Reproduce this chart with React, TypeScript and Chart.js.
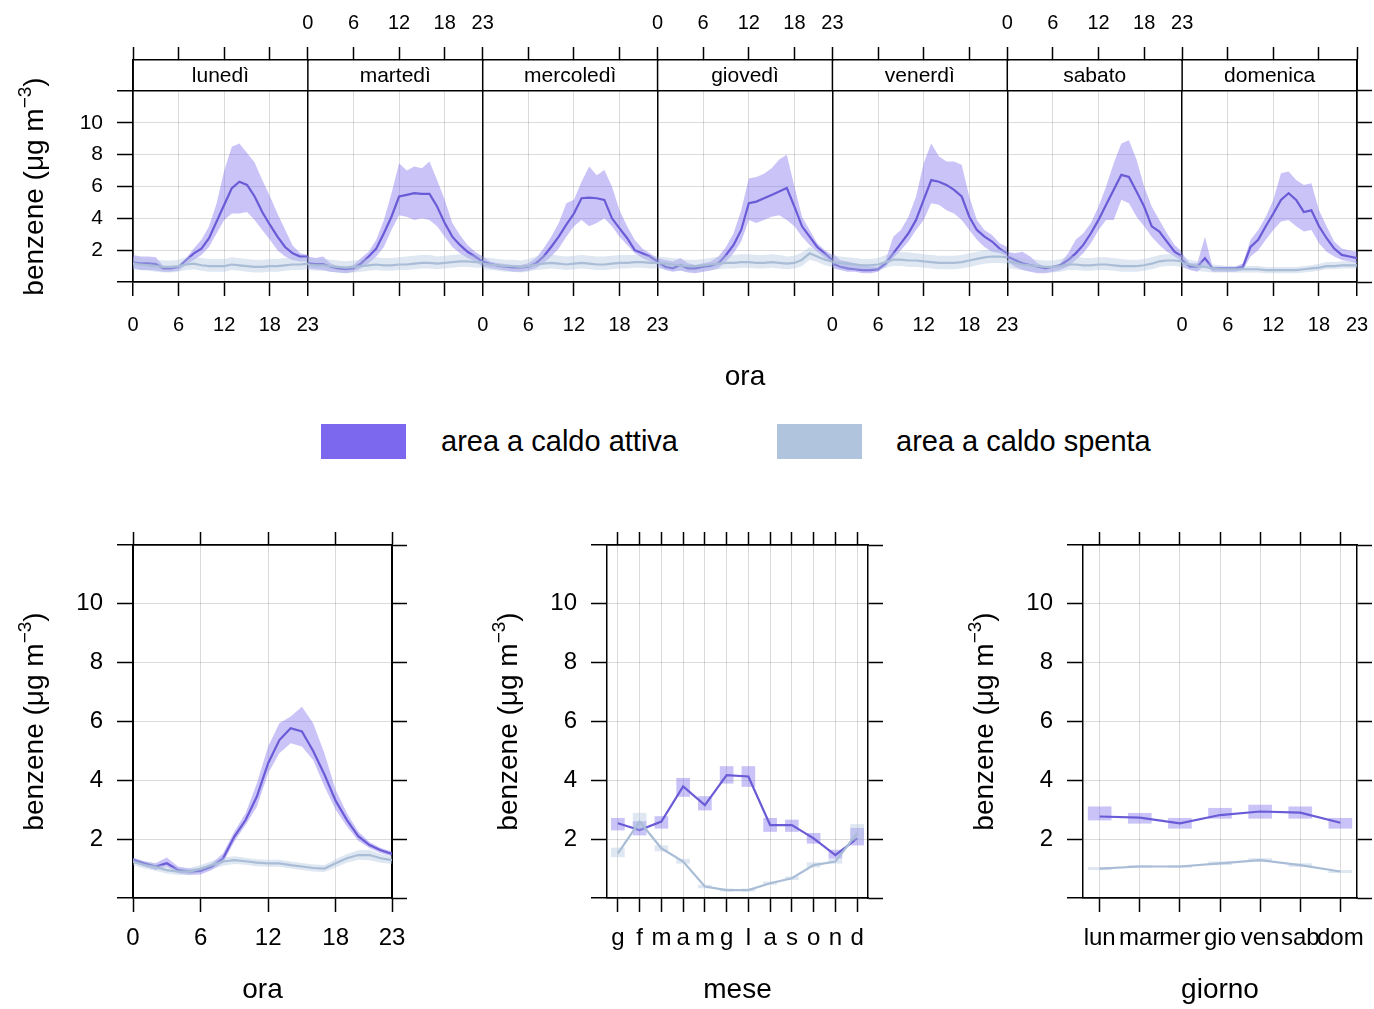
import React, { useEffect, useRef } from 'react';
import { Chart, registerables } from 'chart.js';

Chart.register(...registerables);

const FONT = '"Liberation Sans", Arial, Helvetica, sans-serif';
const BLACK = '#000000';
const GRID = 'rgba(0,0,0,0.14)';
const ACT_LINE = '#6a5bd6';
const ACT_FILL = 'rgba(123,104,238,0.40)';
const OFF_LINE = '#a9bdd6';
const OFF_FILL = 'rgba(176,196,222,0.40)';
const ACT_BOX = '#7b68ee';
const OFF_BOX = '#b0c4de';

const Y_TITLE_MAIN = 'benzene (\u03bcg m';
const Y_TITLE_SUP = '\u22123';
const Y_TITLE_END = ')';

const DAY_NAMES = ['lunedì', 'martedì', 'mercoledì', 'giovedì', 'venerdì', 'sabato', 'domenica'];
const HOUR_TICKS = [0, 6, 12, 18, 23];
const Y_TICKS = [0, 2, 4, 6, 8, 10, 12];
const MONTH_LABELS = ['g', 'f', 'm', 'a', 'm', 'g', 'l', 'a', 's', 'o', 'n', 'd'];
const WEEKDAY_LABELS = ['lun', 'mar', 'mer', 'gio', 'ven', 'sab', 'dom'];
const LEGEND_LABELS = ['area a caldo attiva', 'area a caldo spenta'];
const X_TITLES = ['ora', 'ora', 'mese', 'giorno'];

// ---- top panel: hour x weekday (one row per day, 24 hours) ----
const ACT_MEAN_BY_DAY = [
  [1.22, 1.17, 1.17, 1.13, 0.86, 0.86, 0.96, 1.38, 1.8, 2.1, 2.75, 3.8, 4.85, 5.9, 6.3, 6.1, 5.37, 4.4, 3.6, 2.85, 2.2, 1.8, 1.6, 1.6],
  [1.17, 1.13, 1.13, 0.96, 0.86, 0.8, 0.86, 1.17, 1.6, 2.1, 3.06, 4.1, 5.37, 5.47, 5.58, 5.53, 5.53, 4.74, 3.7, 2.85, 2.33, 1.9, 1.6, 1.28],
  [1.28, 1.13, 1.03, 0.96, 0.92, 0.92, 0.96, 1.17, 1.6, 2.2, 2.85, 3.6, 4.3, 5.26, 5.3, 5.26, 5.16, 4.0, 3.37, 2.75, 2.0, 1.8, 1.6, 1.28],
  [1.28, 0.96, 0.86, 1.07, 0.86, 0.86, 0.96, 1.03, 1.17, 1.7, 2.33, 3.27, 4.95, 5.05, 5.26, 5.47, 5.68, 5.9, 4.74, 3.5, 2.85, 2.2, 1.8, 1.38],
  [1.17, 0.96, 0.86, 0.8, 0.75, 0.75, 0.8, 1.17, 1.8, 2.43, 3.06, 3.9, 5.16, 6.4, 6.3, 6.1, 5.79, 5.37, 4.1, 3.27, 2.85, 2.54, 2.1, 1.8],
  [1.6, 1.38, 1.17, 1.07, 0.96, 0.86, 0.96, 1.07, 1.38, 1.8, 2.33, 3.06, 3.9, 4.85, 5.79, 6.73, 6.6, 5.68, 4.74, 3.5, 3.17, 2.54, 1.9, 1.6],
  [1.38, 0.96, 0.96, 1.5, 0.86, 0.86, 0.86, 0.86, 0.96, 2.2, 2.65, 3.5, 4.3, 5.16, 5.58, 5.16, 4.4, 4.5, 3.5, 2.75, 2.1, 1.7, 1.6, 1.5],
];
const ACT_HIGH_BY_DAY = [
  [1.7, 1.6, 1.6, 1.55, 1.0, 0.9, 1.0, 1.5, 2.1, 2.65, 3.5, 4.95, 7.0, 8.5, 8.7, 8.1, 7.5, 6.4, 5.4, 4.3, 3.3, 2.3, 1.8, 1.7],
  [1.6, 1.5, 1.6, 1.17, 0.96, 0.96, 1.07, 1.5, 1.9, 2.65, 3.9, 5.58, 7.46, 7.0, 7.25, 7.15, 7.57, 6.4, 5.16, 3.7, 2.96, 2.33, 1.9, 1.6],
  [1.6, 1.28, 1.17, 1.13, 1.07, 1.07, 1.17, 1.5, 2.1, 2.85, 3.7, 4.95, 5.16, 6.3, 7.25, 6.7, 7.04, 6.0, 4.5, 3.5, 2.65, 2.1, 1.8, 1.5],
  [1.5, 1.38, 1.28, 1.5, 1.17, 1.07, 1.17, 1.28, 1.6, 2.2, 3.06, 4.5, 6.5, 6.6, 6.8, 7.15, 7.7, 8.0, 6.0, 4.1, 3.27, 2.43, 2.0, 1.7],
  [1.8, 1.38, 1.28, 1.17, 1.07, 0.96, 0.96, 1.38, 2.85, 3.27, 4.1, 5.37, 7.46, 8.7, 7.9, 7.57, 7.57, 7.36, 5.37, 3.9, 3.27, 2.96, 2.43, 2.2],
  [1.9, 1.8, 1.9, 1.6, 1.17, 0.96, 0.96, 1.17, 1.8, 2.65, 3.06, 3.7, 4.74, 6.0, 7.46, 8.7, 8.9, 7.7, 6.0, 4.74, 3.9, 3.06, 2.33, 1.9],
  [1.8, 1.17, 1.17, 2.85, 0.96, 0.96, 0.96, 0.96, 1.17, 2.65, 3.27, 4.1, 5.16, 6.83, 6.94, 6.4, 6.1, 6.2, 4.5, 3.5, 2.54, 2.1, 2.0, 1.9],
];
const ACT_LOW_BY_DAY = [
  [0.86, 0.76, 0.76, 0.72, 0.65, 0.65, 0.72, 1.07, 1.38, 1.7, 2.2, 3.06, 3.9, 4.3, 4.3, 4.4, 3.9, 3.27, 2.65, 2.0, 1.6, 1.38, 1.28, 1.28],
  [0.86, 0.8, 0.76, 0.65, 0.59, 0.55, 0.65, 0.86, 1.17, 1.6, 2.2, 3.27, 4.2, 4.1, 3.9, 4.0, 3.9, 3.5, 2.85, 2.2, 1.8, 1.5, 1.28, 0.96],
  [0.96, 0.86, 0.8, 0.72, 0.65, 0.65, 0.72, 0.86, 1.17, 1.6, 2.1, 2.85, 3.5, 3.9, 3.5, 3.7, 4.0, 3.5, 2.85, 2.33, 1.8, 1.5, 1.28, 1.07],
  [0.96, 0.76, 0.65, 0.72, 0.59, 0.55, 0.65, 0.72, 0.86, 1.28, 1.8, 2.54, 3.9, 3.7, 3.9, 4.1, 4.2, 3.9, 3.5, 2.85, 2.33, 1.9, 1.5, 1.17],
  [0.86, 0.76, 0.65, 0.65, 0.55, 0.55, 0.65, 0.96, 1.5, 2.0, 2.54, 3.27, 3.9, 4.95, 4.85, 4.5, 4.3, 3.9, 3.27, 2.65, 2.2, 1.9, 1.8, 1.6],
  [1.28, 0.96, 0.76, 0.65, 0.55, 0.55, 0.65, 0.76, 0.96, 1.38, 1.8, 2.43, 3.27, 3.9, 3.9, 5.16, 4.95, 4.1, 3.5, 2.85, 2.33, 1.9, 1.6, 1.28],
  [0.96, 0.76, 0.65, 1.07, 0.65, 0.65, 0.65, 0.65, 0.76, 1.6, 2.0, 2.65, 3.27, 3.8, 3.9, 3.5, 3.17, 3.27, 2.43, 1.9, 1.6, 1.38, 1.28, 1.17],
];
const OFF_MEAN_BY_DAY = [
  [1.15, 1.1, 1.05, 1.0, 0.95, 0.95, 1.0, 1.1, 1.15, 1.05, 1.0, 1.0, 1.0, 1.1, 1.05, 1.0, 0.95, 0.95, 1.0, 1.0, 1.05, 1.1, 1.1, 1.15],
  [1.1, 1.05, 1.05, 1.0, 0.95, 0.9, 0.95, 1.0, 1.05, 1.1, 1.05, 1.05, 1.1, 1.1, 1.15, 1.2, 1.2, 1.15, 1.2, 1.25, 1.3, 1.3, 1.25, 1.25],
  [1.15, 1.1, 1.05, 1.0, 1.0, 0.95, 1.0, 1.1, 1.15, 1.2, 1.15, 1.1, 1.15, 1.2, 1.15, 1.1, 1.1, 1.15, 1.2, 1.2, 1.25, 1.25, 1.2, 1.2],
  [1.2, 1.15, 1.1, 1.05, 1.0, 1.0, 1.05, 1.1, 1.15, 1.2, 1.2, 1.25, 1.25, 1.2, 1.2, 1.25, 1.2, 1.15, 1.2, 1.4, 1.8, 1.6, 1.4, 1.3],
  [1.25, 1.2, 1.15, 1.1, 1.05, 1.05, 1.1, 1.25, 1.4, 1.4, 1.35, 1.35, 1.3, 1.25, 1.2, 1.2, 1.2, 1.25, 1.35, 1.45, 1.55, 1.6, 1.6, 1.55],
  [1.3, 1.2, 1.1, 1.05, 1.0, 0.95, 0.95, 1.0, 1.1, 1.1, 1.05, 1.05, 1.1, 1.1, 1.05, 1.0, 1.0, 1.0, 1.05, 1.15, 1.3, 1.35, 1.35, 1.3],
  [1.2, 1.1, 1.0, 0.95, 0.85, 0.8, 0.8, 0.8, 0.8, 0.8, 0.8, 0.75, 0.75, 0.75, 0.75, 0.75, 0.8, 0.85, 0.9, 1.0, 1.0, 1.05, 1.05, 1.05],
];
const OFF_HIGH_BY_DAY = [
  [1.55, 1.5, 1.45, 1.4, 1.35, 1.35, 1.4, 1.55, 1.6, 1.5, 1.45, 1.45, 1.45, 1.55, 1.5, 1.45, 1.4, 1.4, 1.45, 1.45, 1.5, 1.55, 1.55, 1.6],
  [1.5, 1.45, 1.45, 1.4, 1.35, 1.3, 1.35, 1.4, 1.5, 1.55, 1.5, 1.5, 1.55, 1.6, 1.65, 1.7, 1.7, 1.6, 1.65, 1.7, 1.75, 1.75, 1.7, 1.65],
  [1.55, 1.5, 1.45, 1.4, 1.4, 1.35, 1.45, 1.6, 1.7, 1.75, 1.65, 1.6, 1.65, 1.7, 1.65, 1.6, 1.6, 1.65, 1.7, 1.7, 1.7, 1.7, 1.65, 1.6],
  [1.6, 1.55, 1.5, 1.45, 1.4, 1.4, 1.45, 1.5, 1.6, 1.7, 1.7, 1.75, 1.75, 1.7, 1.7, 1.75, 1.7, 1.6, 1.65, 1.85, 2.2, 2.0, 1.8, 1.7],
  [1.7, 1.6, 1.55, 1.5, 1.45, 1.45, 1.5, 1.7, 1.85, 1.9, 1.85, 1.8, 1.75, 1.7, 1.65, 1.65, 1.65, 1.7, 1.8, 1.9, 2.0, 2.05, 2.05, 2.0],
  [1.75, 1.6, 1.5, 1.45, 1.4, 1.35, 1.35, 1.45, 1.6, 1.65, 1.5, 1.5, 1.55, 1.55, 1.5, 1.45, 1.4, 1.4, 1.45, 1.55, 1.7, 1.75, 1.75, 1.7],
  [1.55, 1.4, 1.3, 1.25, 1.1, 1.05, 1.0, 1.0, 1.0, 1.0, 1.0, 0.95, 0.95, 0.95, 0.95, 0.95, 1.0, 1.05, 1.15, 1.25, 1.25, 1.3, 1.3, 1.3],
];
const OFF_LOW_BY_DAY = [
  [0.8, 0.75, 0.7, 0.65, 0.6, 0.6, 0.65, 0.75, 0.8, 0.7, 0.65, 0.65, 0.65, 0.75, 0.7, 0.65, 0.6, 0.6, 0.65, 0.65, 0.7, 0.75, 0.75, 0.8],
  [0.75, 0.7, 0.7, 0.65, 0.6, 0.55, 0.6, 0.65, 0.7, 0.75, 0.7, 0.7, 0.75, 0.75, 0.8, 0.85, 0.85, 0.8, 0.85, 0.9, 0.95, 0.95, 0.9, 0.9],
  [0.8, 0.75, 0.7, 0.65, 0.65, 0.6, 0.65, 0.75, 0.8, 0.85, 0.8, 0.75, 0.8, 0.85, 0.8, 0.75, 0.75, 0.8, 0.85, 0.85, 0.9, 0.9, 0.85, 0.85],
  [0.85, 0.8, 0.75, 0.7, 0.65, 0.65, 0.7, 0.75, 0.8, 0.85, 0.85, 0.9, 0.9, 0.85, 0.85, 0.9, 0.85, 0.8, 0.85, 1.0, 1.4, 1.25, 1.05, 0.95],
  [0.9, 0.85, 0.8, 0.75, 0.7, 0.7, 0.75, 0.9, 1.0, 1.0, 0.95, 0.95, 0.9, 0.85, 0.8, 0.8, 0.8, 0.85, 0.95, 1.05, 1.15, 1.2, 1.2, 1.15],
  [0.9, 0.8, 0.75, 0.7, 0.65, 0.6, 0.6, 0.65, 0.75, 0.75, 0.7, 0.7, 0.75, 0.75, 0.7, 0.65, 0.65, 0.65, 0.7, 0.8, 0.95, 1.0, 1.0, 0.95],
  [0.9, 0.8, 0.7, 0.65, 0.6, 0.6, 0.6, 0.6, 0.6, 0.6, 0.6, 0.55, 0.55, 0.55, 0.55, 0.55, 0.6, 0.65, 0.7, 0.8, 0.8, 0.85, 0.85, 0.85],
];

// ---- bottom-left panel: hour ----
const HOUR_ACT_MEAN = [1.3, 1.18, 1.07, 1.18, 0.95, 0.9, 0.92, 1.07, 1.35, 2.09, 2.65, 3.45, 4.58, 5.37, 5.77, 5.66, 5.0, 4.2, 3.3, 2.65, 2.1, 1.8, 1.62, 1.5];
const HOUR_ACT_HIGH = [1.38, 1.25, 1.18, 1.38, 1.07, 1.0, 1.0, 1.18, 1.52, 2.26, 2.88, 3.9, 5.15, 5.94, 6.17, 6.5, 5.94, 4.92, 3.67, 2.88, 2.26, 1.9, 1.7, 1.58];
const HOUR_ACT_LOW = [1.2, 1.07, 0.95, 1.07, 0.84, 0.78, 0.8, 0.95, 1.2, 1.92, 2.48, 3.1, 4.24, 4.92, 5.26, 5.15, 4.69, 3.79, 3.0, 2.43, 1.95, 1.7, 1.52, 1.42];
const HOUR_OFF_MEAN = [1.24, 1.12, 1.05, 0.95, 0.9, 0.9, 1.0, 1.12, 1.24, 1.29, 1.25, 1.2, 1.18, 1.18, 1.12, 1.07, 1.02, 1.0, 1.18, 1.35, 1.46, 1.46, 1.35, 1.29];
const HOUR_OFF_HIGH = [1.36, 1.24, 1.17, 1.07, 1.02, 1.02, 1.12, 1.26, 1.38, 1.42, 1.37, 1.32, 1.3, 1.3, 1.24, 1.19, 1.14, 1.12, 1.32, 1.5, 1.62, 1.64, 1.5, 1.42];
const HOUR_OFF_LOW = [1.12, 1.0, 0.93, 0.83, 0.78, 0.78, 0.88, 0.98, 1.1, 1.16, 1.13, 1.08, 1.06, 1.06, 1.0, 0.95, 0.9, 0.88, 1.04, 1.2, 1.3, 1.28, 1.2, 1.16];

// ---- bottom-middle panel: month ----
const MONTH_ACT_MEAN = [2.54, 2.31, 2.6, 3.79, 3.16, 4.18, 4.13, 2.48, 2.48, 2.03, 1.46, 2.03];
const MONTH_ACT_LOW = [2.31, 2.14, 2.37, 3.45, 2.99, 3.9, 3.79, 2.26, 2.26, 1.86, 1.35, 1.8];
const MONTH_ACT_HIGH = [2.71, 2.6, 2.77, 4.07, 3.45, 4.47, 4.47, 2.71, 2.65, 2.2, 1.63, 2.37];
const MONTH_OFF_MEAN = [1.52, 2.6, 1.69, 1.24, 0.39, 0.27, 0.27, 0.5, 0.67, 1.12, 1.24, 2.2];
const MONTH_OFF_LOW = [1.4, 2.31, 1.6, 1.18, 0.34, 0.23, 0.23, 0.46, 0.62, 1.05, 1.18, 1.95];
const MONTH_OFF_HIGH = [1.7, 2.88, 1.78, 1.32, 0.44, 0.31, 0.31, 0.55, 0.72, 1.2, 1.32, 2.5];

// ---- bottom-right panel: weekday ----
const WD_ACT_MEAN = [2.77, 2.73, 2.54, 2.82, 2.94, 2.9, 2.56];
const WD_ACT_LOW = [2.65, 2.54, 2.37, 2.71, 2.71, 2.71, 2.37];
const WD_ACT_HIGH = [3.1, 2.88, 2.71, 3.05, 3.16, 3.1, 2.71];
const WD_OFF_MEAN = [1.0, 1.07, 1.07, 1.18, 1.29, 1.12, 0.9];
const WD_OFF_LOW = [0.96, 1.03, 1.03, 1.13, 1.24, 1.07, 0.86];
const WD_OFF_HIGH = [1.04, 1.11, 1.11, 1.23, 1.34, 1.17, 0.94];

const DAY_SPAN = 23;
const N_DAYS = DAY_NAMES.length;
const TOP_X_MAX = DAY_SPAN * N_DAYS;
const TOP_Y_MAX = 13.945;

const TOP_X_TICKS: number[] = [];
for (let d = 0; d < N_DAYS; d++) {
  for (const t of HOUR_TICKS.slice(0, 4)) TOP_X_TICKS.push(d * DAY_SPAN + t);
}
TOP_X_TICKS.push(TOP_X_MAX);

const isBoundary = (v: number) => Math.abs(v / DAY_SPAN - Math.round(v / DAY_SPAN)) < 1e-9;

function panelLabel(v: number, parity: number) {
  for (let d = 0; d < N_DAYS; d++) {
    if (d % 2 !== parity) continue;
    const s = d * DAY_SPAN;
    if (v >= s - 1e-9 && v <= s + DAY_SPAN + 1e-9) return String(Math.round(v - s));
  }
  return '';
}

function drawYTitle(ctx: CanvasRenderingContext2D, cx: number, cy: number) {
  ctx.save();
  ctx.translate(cx, cy);
  ctx.rotate(-Math.PI / 2);
  ctx.fillStyle = BLACK;
  ctx.textAlign = 'left';
  ctx.textBaseline = 'alphabetic';
  const main = `28px ${FONT}`;
  const sup = `19px ${FONT}`;
  ctx.font = main;
  const w1 = ctx.measureText(Y_TITLE_MAIN).width;
  const w3 = ctx.measureText(Y_TITLE_END).width;
  ctx.font = sup;
  const w2 = ctx.measureText(Y_TITLE_SUP).width;
  const x0 = -(w1 + w2 + w3) / 2;
  const base = 8;
  ctx.font = main;
  ctx.fillText(Y_TITLE_MAIN, x0, base);
  ctx.font = sup;
  ctx.fillText(Y_TITLE_SUP, x0 + w1, base - 12);
  ctx.font = main;
  ctx.fillText(Y_TITLE_END, x0 + w1 + w2, base);
  ctx.restore();
}

const yTitlePlugin = {
  id: 'ytitle',
  afterDraw(chart: any) {
    const { ctx, chartArea, scales } = chart;
    const top = scales.y.getPixelForValue(12);
    drawYTitle(ctx, 35, (top + chartArea.bottom) / 2);
  },
};

const stripPlugin = {
  id: 'strip',
  afterDatasetsDraw(chart: any) {
    const { ctx, chartArea: a, scales } = chart;
    const xs = scales.x;
    const yb = scales.y.getPixelForValue(12);
    ctx.save();
    ctx.fillStyle = '#ffffff';
    ctx.fillRect(a.left + 1, a.top + 1, a.right - a.left - 2, yb - a.top - 2);
    ctx.strokeStyle = BLACK;
    ctx.lineWidth = 1.5;
    ctx.beginPath();
    for (let d = 0; d <= N_DAYS; d++) {
      const px = xs.getPixelForValue(d * DAY_SPAN);
      ctx.moveTo(px, a.top);
      ctx.lineTo(px, yb);
    }
    ctx.stroke();
    ctx.fillStyle = BLACK;
    ctx.font = `21px ${FONT}`;
    ctx.textAlign = 'center';
    ctx.textBaseline = 'middle';
    DAY_NAMES.forEach((n, d) => {
      ctx.fillText(n, xs.getPixelForValue(d * DAY_SPAN + DAY_SPAN / 2), (a.top + yb) / 2 + 1);
    });
    ctx.restore();
  },
};

function setTicks(vals: number[]) {
  return (s: any) => {
    s.ticks = vals.map((v) => ({ value: v }));
  };
}

function fixHeight(h: number) {
  return (s: any) => {
    s.height = h;
    s.paddingLeft = 0;
    s.paddingRight = 0;
  };
}

function yAxes(labelSize: number, rightWidth: number, max: number) {
  return {
    y: {
      type: 'linear',
      position: 'left',
      min: 0,
      max,
      afterBuildTicks: setTicks(Y_TICKS),
      ticks: {
        callback: (v: number) => (v > 0 && v < 12 ? String(v) : ''),
        font: { family: FONT, size: labelSize },
        color: BLACK,
        padding: 14,
      },
      grid: {
        color: (c: any) => (c.tick && (c.tick.value === 0 || c.tick.value === 12) ? BLACK : GRID),
        lineWidth: (c: any) => (c.tick && (c.tick.value === 0 || c.tick.value === 12) ? 1.5 : 1),
        tickLength: 16,
        tickColor: BLACK,
        tickWidth: 1.5,
      },
      border: { display: true, color: BLACK, width: 1.5 },
      afterFit: (s: any) => {
        s.width = 133;
        s.paddingTop = 0;
        s.paddingBottom = 0;
      },
    },
    y2: {
      type: 'linear',
      position: 'right',
      min: 0,
      max,
      afterBuildTicks: setTicks(Y_TICKS),
      ticks: { display: false },
      grid: { drawOnChartArea: false, tickLength: 15, tickColor: BLACK, tickWidth: 1.5 },
      border: { display: true, color: BLACK, width: 1.5 },
      afterFit: (s: any) => {
        s.width = rightWidth;
        s.paddingTop = 0;
        s.paddingBottom = 0;
      },
    },
  };
}

function bandSets(xs: number[], low: number[], high: number[], mean: number[], fill: string, line: string, base: number) {
  return [
    { data: low.map((v, i) => ({ x: xs[i], y: v })), borderWidth: 0, pointRadius: 0, fill: false, order: base + 1 },
    { data: high.map((v, i) => ({ x: xs[i], y: v })), borderWidth: 0, pointRadius: 0, fill: '-1', backgroundColor: fill, order: base + 1 },
    { data: mean.map((v, i) => ({ x: xs[i], y: v })), borderColor: line, borderWidth: 2.2, pointRadius: 0, fill: false, order: base },
  ];
}

function boxSets(xs: number[], low: number[], high: number[], mean: number[], fill: string, line: string, base: number, thick: number) {
  return [
    {
      type: 'bar',
      data: low.map((v, i) => ({ x: xs[i], y: [v, high[i]] })),
      backgroundColor: fill,
      borderWidth: 0,
      barThickness: thick,
      grouped: false,
      order: base + 1,
    },
    { type: 'line', data: mean.map((v, i) => ({ x: xs[i], y: v })), borderColor: line, borderWidth: 2.2, pointRadius: 0, fill: false, order: base },
  ];
}

const HOURS = Array.from({ length: 24 }, (_, h) => h);

function topConfig(H: number): any {
  const datasets: any[] = [];
  for (let d = 0; d < N_DAYS; d++) {
    const xs = HOURS.map((h) => d * DAY_SPAN + h);
    datasets.push(...bandSets(xs, ACT_LOW_BY_DAY[d], ACT_HIGH_BY_DAY[d], ACT_MEAN_BY_DAY[d], ACT_FILL, ACT_LINE, 3));
    datasets.push(...bandSets(xs, OFF_LOW_BY_DAY[d], OFF_HIGH_BY_DAY[d], OFF_MEAN_BY_DAY[d], OFF_FILL, OFF_LINE, 1));
  }
  return {
    type: 'line',
    data: { datasets },
    plugins: [stripPlugin, yTitlePlugin],
    options: {
      animation: false,
      responsive: false,
      events: [],
      layout: { padding: 0 },
      plugins: { legend: { display: false }, tooltip: { enabled: false } },
      scales: {
        x: {
          type: 'linear',
          position: 'bottom',
          min: 0,
          max: TOP_X_MAX,
          afterBuildTicks: setTicks(TOP_X_TICKS),
          ticks: {
            autoSkip: false,
            maxRotation: 0,
            minRotation: 0,
            callback: (v: number) => panelLabel(v, 0),
            font: { family: FONT, size: 20 },
            color: BLACK,
            padding: 17,
          },
          grid: {
            color: (c: any) => (c.tick && isBoundary(c.tick.value) ? BLACK : GRID),
            lineWidth: (c: any) => (c.tick && isBoundary(c.tick.value) ? 1.5 : 1),
            tickLength: 14,
            tickColor: BLACK,
            tickWidth: 1.5,
          },
          border: { display: true, color: BLACK, width: 1.5 },
          title: { display: true, text: X_TITLES[0], font: { family: FONT, size: 28 }, color: BLACK, padding: 0 },
          afterFit: fixHeight(H - 282),
        },
        x2: {
          type: 'linear',
          position: 'top',
          min: 0,
          max: TOP_X_MAX,
          afterBuildTicks: setTicks(TOP_X_TICKS),
          ticks: {
            autoSkip: false,
            maxRotation: 0,
            minRotation: 0,
            callback: (v: number) => panelLabel(v, 1),
            font: { family: FONT, size: 20 },
            color: BLACK,
            padding: 12,
          },
          grid: { drawOnChartArea: false, tickLength: 13, tickColor: BLACK, tickWidth: 1.5 },
          border: { display: true, color: BLACK, width: 1.5 },
          afterFit: fixHeight(60),
        },
        ...yAxes(21, 17, TOP_Y_MAX),
      },
    },
  };
}

function bottomConfig(
  H: number,
  rightWidth: number,
  xmin: number,
  xmax: number,
  ticks: number[],
  label: (v: number) => string,
  title: string,
  datasets: any[]
): any {
  return {
    type: 'line',
    data: { datasets },
    plugins: [yTitlePlugin],
    options: {
      animation: false,
      responsive: false,
      events: [],
      layout: { padding: 0 },
      plugins: { legend: { display: false }, tooltip: { enabled: false } },
      scales: {
        x: {
          type: 'linear',
          position: 'bottom',
          min: xmin,
          max: xmax,
          offset: false,
          afterBuildTicks: setTicks(ticks),
          ticks: {
            autoSkip: false,
            maxRotation: 0,
            minRotation: 0,
            callback: (v: number) => label(v),
            font: { family: FONT, size: 24 },
            color: BLACK,
            padding: 12,
          },
          grid: {
            offset: false,
            color: (c: any) => (c.tick && (c.tick.value === xmin || c.tick.value === xmax) ? BLACK : GRID),
            lineWidth: 1,
            tickLength: 14,
            tickColor: BLACK,
            tickWidth: 1.5,
          },
          border: { display: true, color: BLACK, width: 1.5 },
          title: { display: true, text: title, font: { family: FONT, size: 28 }, color: BLACK, padding: 0 },
          afterFit: fixHeight(H - 398),
        },
        x2: {
          type: 'linear',
          position: 'top',
          min: xmin,
          max: xmax,
          offset: false,
          afterBuildTicks: setTicks(ticks),
          ticks: { display: false },
          grid: { offset: false, drawOnChartArea: false, tickLength: 13, tickColor: BLACK, tickWidth: 1.5 },
          border: { display: true, color: BLACK, width: 1.5 },
          afterFit: fixHeight(45),
        },
        ...yAxes(24, rightWidth, 12),
      },
    },
  };
}

const MONTH_X = MONTH_LABELS.map((_, i) => i + 1);
const WD_X = WEEKDAY_LABELS.map((_, i) => i + 1);

function hourChart() {
  const ds = [
    ...bandSets(HOURS, HOUR_ACT_LOW, HOUR_ACT_HIGH, HOUR_ACT_MEAN, ACT_FILL, ACT_LINE, 3),
    ...bandSets(HOURS, HOUR_OFF_LOW, HOUR_OFF_HIGH, HOUR_OFF_MEAN, OFF_FILL, OFF_LINE, 1),
  ];
  return bottomConfig(507, 48, 0, 23, HOUR_TICKS, (v) => String(v), X_TITLES[1], ds);
}

function monthChart() {
  const ds = [
    ...boxSets(MONTH_X, MONTH_ACT_LOW, MONTH_ACT_HIGH, MONTH_ACT_MEAN, ACT_FILL, ACT_LINE, 3, 13),
    ...boxSets(MONTH_X, MONTH_OFF_LOW, MONTH_OFF_HIGH, MONTH_OFF_MEAN, OFF_FILL, OFF_LINE, 1, 13),
  ];
  return bottomConfig(507, 40, 0.5, 12.5, MONTH_X, (v) => MONTH_LABELS[Math.round(v) - 1] || '', X_TITLES[2], ds);
}

function weekdayChart() {
  const ds = [
    ...boxSets(WD_X, WD_ACT_LOW, WD_ACT_HIGH, WD_ACT_MEAN, ACT_FILL, ACT_LINE, 3, 23),
    ...boxSets(WD_X, WD_OFF_LOW, WD_OFF_HIGH, WD_OFF_MEAN, OFF_FILL, OFF_LINE, 1, 23),
  ];
  return bottomConfig(507, 17, 0.585, 7.415, WD_X, (v) => WEEKDAY_LABELS[Math.round(v) - 1] || '', X_TITLES[3], ds);
}

function ChartBox({ left, top, w, h, make }: { left: number; top: number; w: number; h: number; make: () => any }) {
  const ref = useRef<HTMLCanvasElement>(null);
  useEffect(() => {
    const chart = new Chart(ref.current as HTMLCanvasElement, make());
    return () => chart.destroy();
  }, []);
  return (
    <div style={{ position: 'absolute', left, top, width: w, height: h }}>
      <canvas ref={ref} width={w} height={h} style={{ width: w, height: h, display: 'block' }} />
    </div>
  );
}

export default function App() {
  const legendText: React.CSSProperties = {
    position: 'absolute',
    top: 441,
    transform: 'translateY(-50%)',
    font: `29px ${FONT}`,
    color: BLACK,
    whiteSpace: 'nowrap',
    lineHeight: '34px',
  };
  return (
    <div style={{ position: 'absolute', left: 0, top: 0, width: 1374, height: 1009, background: '#fff', overflow: 'hidden' }}>
      <ChartBox left={0} top={0} w={1374} h={394} make={() => topConfig(394)} />
      <div style={{ position: 'absolute', left: 321, top: 424, width: 85, height: 35, background: ACT_BOX }} />
      <div style={{ ...legendText, left: 441 }}>{LEGEND_LABELS[0]}</div>
      <div style={{ position: 'absolute', left: 777, top: 424, width: 85, height: 35, background: OFF_BOX }} />
      <div style={{ ...legendText, left: 896 }}>{LEGEND_LABELS[1]}</div>
      <ChartBox left={0} top={500} w={440} h={507} make={hourChart} />
      <ChartBox left={474} top={500} w={434} h={507} make={monthChart} />
      <ChartBox left={950} top={500} w={424} h={507} make={weekdayChart} />
    </div>
  );
}
